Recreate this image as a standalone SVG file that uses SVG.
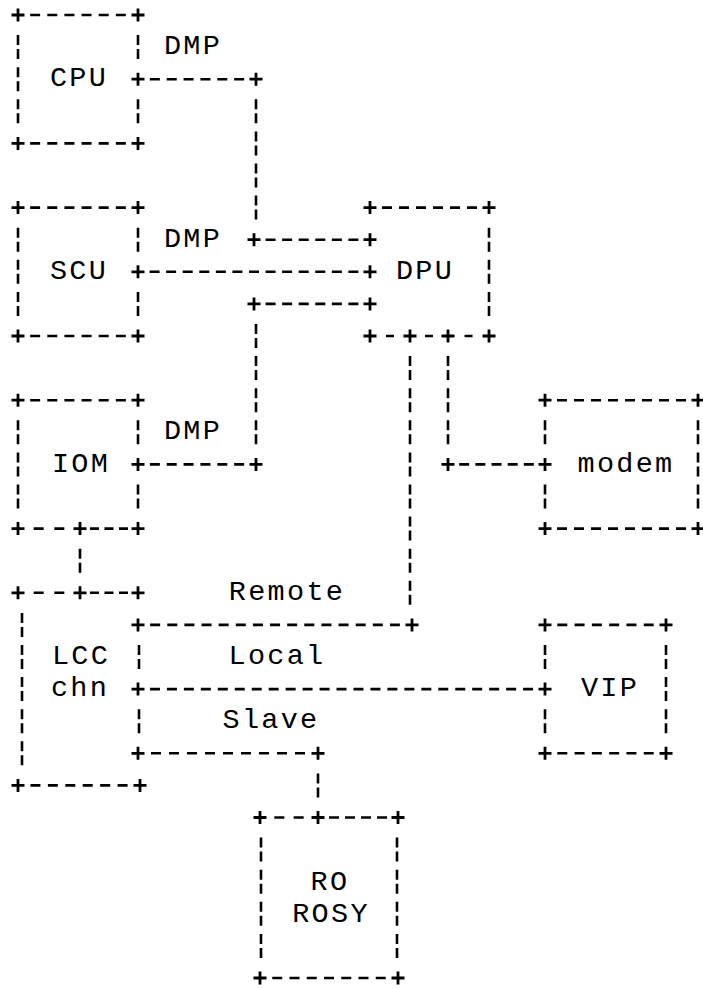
<svg xmlns="http://www.w3.org/2000/svg" xmlns:xlink="http://www.w3.org/1999/xlink" width="703" height="988" viewBox="0 0 703 988">
<style>
.ln{stroke:#000;stroke-width:2.6;fill:none}
.v{stroke-dasharray:10 4 10 8.1}
.t{font-family:"Liberation Mono","DejaVu Sans Mono",monospace;font-size:28.5px;letter-spacing:2.3px;text-anchor:middle;fill:#000}
</style>
<defs>
<path id="p" d="M-6.5 0H6.5M0 -6.5V6.5" stroke="#000" stroke-width="2.8" fill="none"/>
</defs>
<rect width="703" height="988" fill="#fff"/>

<g id="cpu">
<line class="ln" x1="30.14" y1="15" x2="125.86" y2="15" stroke-dasharray="10 7.14"/>
<line class="ln" x1="30.14" y1="143.4" x2="125.86" y2="143.4" stroke-dasharray="10 7.14"/>
<path class="ln v" d="M18 35.1V123.3M138 35.1V59.1M138 99.3V123.3"/>
<use xlink:href="#p" x="18" y="15"/><use xlink:href="#p" x="138" y="15"/>
<use xlink:href="#p" x="18" y="143.4"/><use xlink:href="#p" x="138" y="143.4"/>
<text class="t" x="79" y="86">CPU</text>
</g>

<g id="scu">
<line class="ln" x1="30.14" y1="207.6" x2="125.86" y2="207.6" stroke-dasharray="10 7.14"/>
<line class="ln" x1="30.14" y1="336" x2="125.86" y2="336" stroke-dasharray="10 7.14"/>
<path class="ln v" d="M18 227.7V315.9M138 227.7V251.7M138 291.9V315.9"/>
<use xlink:href="#p" x="18" y="207.6"/><use xlink:href="#p" x="138" y="207.6"/>
<use xlink:href="#p" x="18" y="336"/><use xlink:href="#p" x="138" y="336"/>
<text class="t" x="79" y="279">SCU</text>
</g>

<g id="dpu">
<line class="ln" x1="382" y1="207.6" x2="477" y2="207.6" stroke-dasharray="10 7"/>
<path class="ln" d="M386 336H394M425 336H433M464.5 336H472.5"/>
<path class="ln v" d="M489 227.7V315.9"/>
<use xlink:href="#p" x="370" y="207.6"/><use xlink:href="#p" x="489" y="207.6"/>
<use xlink:href="#p" x="370" y="336"/><use xlink:href="#p" x="410" y="336"/>
<use xlink:href="#p" x="448" y="336"/><use xlink:href="#p" x="489" y="336"/>
<text class="t" x="425" y="279">DPU</text>
</g>

<g id="iom">
<line class="ln" x1="30.14" y1="400.2" x2="125.86" y2="400.2" stroke-dasharray="10 7.14"/>
<line class="ln" x1="33.67" y1="528.6" x2="64.33" y2="528.6" stroke-dasharray="10 10.67"/>
<line class="ln" x1="90" y1="528.6" x2="128" y2="528.6" stroke-dasharray="9 5.5"/>
<path class="ln v" d="M18 420.3V508.5M138 420.3V444.3M138 484.5V508.5"/>
<use xlink:href="#p" x="18" y="400.2"/><use xlink:href="#p" x="138" y="400.2"/>
<use xlink:href="#p" x="18" y="528.6"/><use xlink:href="#p" x="80" y="528.6"/><use xlink:href="#p" x="138" y="528.6"/>
<text class="t" x="81" y="471.5">IOM</text>
</g>

<g id="modem">
<line class="ln" x1="557" y1="400.2" x2="686" y2="400.2" stroke-dasharray="10 7"/>
<line class="ln" x1="557" y1="528.6" x2="686" y2="528.6" stroke-dasharray="10 7"/>
<path class="ln v" d="M545 420.3V444.3M545 484.5V508.5M698 420.3V508.5"/>
<use xlink:href="#p" x="545" y="400.2"/><use xlink:href="#p" x="698" y="400.2"/>
<use xlink:href="#p" x="545" y="528.6"/><use xlink:href="#p" x="698" y="528.6"/>
<text class="t" x="626" y="471.5">modem</text>
</g>

<g id="lcc">
<line class="ln" x1="33.67" y1="592.8" x2="64.33" y2="592.8" stroke-dasharray="10 10.67"/>
<line class="ln" x1="90" y1="592.8" x2="128" y2="592.8" stroke-dasharray="9 5.5"/>
<line class="ln" x1="30.43" y1="785.4" x2="127.57" y2="785.4" stroke-dasharray="10 7.43"/>
<path class="ln v" d="M22 612.9V765.3M139 645V669M139 709.2V733.2"/>
<use xlink:href="#p" x="18" y="592.8"/><use xlink:href="#p" x="80" y="592.8"/><use xlink:href="#p" x="138" y="592.8"/>
<use xlink:href="#p" x="18" y="785.4"/><use xlink:href="#p" x="140" y="785.4"/>
<text class="t" x="81" y="664">LCC</text>
<text class="t" x="80" y="696">chn</text>
</g>

<g id="vip">
<line class="ln" x1="557.29" y1="624.9" x2="653.71" y2="624.9" stroke-dasharray="10 7.29"/>
<line class="ln" x1="557.29" y1="753.3" x2="653.71" y2="753.3" stroke-dasharray="10 7.29"/>
<path class="ln v" d="M545 645V669M545 709.2V733.2M666 645V733.2"/>
<use xlink:href="#p" x="545" y="624.9"/><use xlink:href="#p" x="666" y="624.9"/>
<use xlink:href="#p" x="545" y="753.3"/><use xlink:href="#p" x="666" y="753.3"/>
<text class="t" x="610" y="696">VIP</text>
</g>

<g id="ro-rosy">
<line class="ln" x1="274.33" y1="817.5" x2="303.67" y2="817.5" stroke-dasharray="10 9.33"/>
<line class="ln" x1="329" y1="817.5" x2="387" y2="817.5" stroke-dasharray="10 6"/>
<line class="ln" x1="272.25" y1="978" x2="385.75" y2="978" stroke-dasharray="10 7.25"/>
<path class="ln v" d="M261 837.6V957.9M397 837.6V957.9"/>
<use xlink:href="#p" x="260" y="817.5"/><use xlink:href="#p" x="318" y="817.5"/><use xlink:href="#p" x="398" y="817.5"/>
<use xlink:href="#p" x="260" y="978"/><use xlink:href="#p" x="398" y="978"/>
<text class="t" x="330" y="890">RO</text>
<text class="t" x="331" y="922">ROSY</text>
</g>

<g id="connectors">
<!-- CPU to DPU (DMP) -->
<line class="ln" x1="149.86" y1="79.2" x2="244.14" y2="79.2" stroke-dasharray="10 6.86"/>
<path class="ln v" d="M256 99.3V219.6"/>
<line class="ln" x1="265.57" y1="239.7" x2="358.43" y2="239.7" stroke-dasharray="10 6.57"/>
<use xlink:href="#p" x="138" y="79.2"/><use xlink:href="#p" x="256" y="79.2"/>
<use xlink:href="#p" x="254" y="239.7"/><use xlink:href="#p" x="370" y="239.7"/>
<text class="t" x="193" y="54">DMP</text>
<!-- SCU to DPU -->
<line class="ln" x1="149.57" y1="271.8" x2="358.43" y2="271.8" stroke-dasharray="10 6.57"/>
<use xlink:href="#p" x="138" y="271.8"/><use xlink:href="#p" x="370" y="271.8"/>
<text class="t" x="193" y="247">DMP</text>
<!-- IOM to DPU (DMP) -->
<line class="ln" x1="265.57" y1="303.9" x2="358.43" y2="303.9" stroke-dasharray="10 6.57"/>
<path class="ln v" d="M256 324V444.3"/>
<line class="ln" x1="149.86" y1="464.4" x2="244.14" y2="464.4" stroke-dasharray="10 6.86"/>
<use xlink:href="#p" x="254" y="303.9"/><use xlink:href="#p" x="370" y="303.9"/>
<use xlink:href="#p" x="138" y="464.4"/><use xlink:href="#p" x="256" y="464.4"/>
<text class="t" x="193" y="439">DMP</text>
<!-- DPU to modem -->
<path class="ln v" d="M448 356.1V444.3"/>
<line class="ln" x1="459.17" y1="464.4" x2="533.83" y2="464.4" stroke-dasharray="10 6.17"/>
<use xlink:href="#p" x="448" y="464.4"/><use xlink:href="#p" x="545" y="464.4"/>
<!-- IOM to LCC -->
<path class="ln v" d="M80 548.7V572.7"/>
<!-- DPU to LCC (Remote) -->
<path class="ln v" d="M410 356.1V604.8"/>
<line class="ln" x1="150.13" y1="624.9" x2="399.88" y2="624.9" stroke-dasharray="10 7.13"/>
<use xlink:href="#p" x="138" y="624.9"/><use xlink:href="#p" x="412" y="624.9"/>
<text class="t" x="287" y="600">Remote</text>
<!-- LCC to VIP (Local) -->
<line class="ln" x1="149.96" y1="689.1" x2="533.04" y2="689.1" stroke-dasharray="10 6.96"/>
<use xlink:href="#p" x="138" y="689.1"/><use xlink:href="#p" x="545" y="689.1"/>
<text class="t" x="277" y="664">Local</text>
<!-- LCC to RO ROSY (Slave) -->
<line class="ln" x1="151" y1="753.3" x2="305" y2="753.3" stroke-dasharray="10 8"/>
<path class="ln v" d="M318 773.4V797.4"/>
<use xlink:href="#p" x="138" y="753.3"/><use xlink:href="#p" x="318" y="753.3"/>
<text class="t" x="271" y="728">Slave</text>
</g>
</svg>
